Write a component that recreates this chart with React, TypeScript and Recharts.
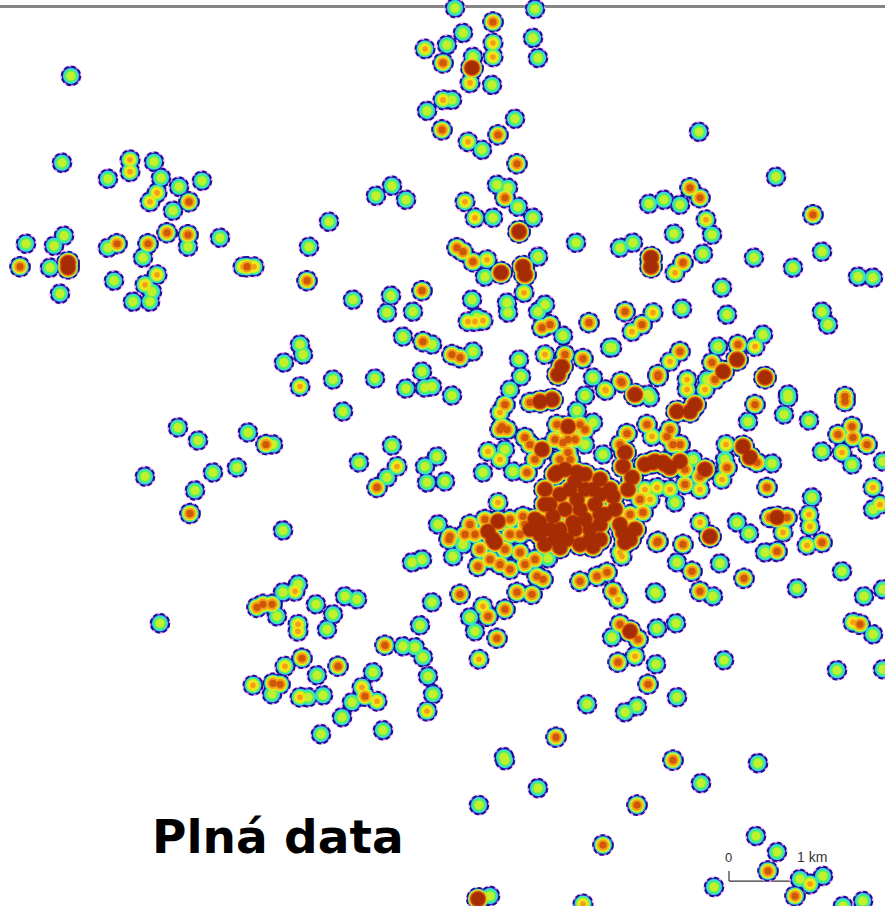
import { ReferenceLine, Scatter, ScatterChart, XAxis, YAxis } from "recharts";

const W = 885;
const H = 906;

// spot centres, grouped by how hot the middle of the spot is
const greenSpots = [
  [71,76],[62,163],[108,179],[154,162],[161,178],[179,187],[202,181],[173,211],[26,244],[64,236],[54,246],[50,268],[60,294],
  [108,248],[143,258],[188,247],[220,238],[114,281],[150,302],[133,302],[152,292],
  [455,8],[535,9],[463,33],[533,38],[538,58],[447,45],[473,57],[492,85],[452,100],[427,111],[515,119],[482,150],
  [392,186],[376,196],[406,200],[329,222],[309,247],[353,300],[391,296],[387,313],[413,312],[497,185],[508,188],[518,207],
  [493,218],[533,218],[576,243],[538,257],[485,277],[507,303],[508,313],[472,300],[545,305],[538,312],[477,318],
  [699,132],[776,177],[649,204],[664,200],[680,205],[712,235],[674,234],[620,248],[633,243],[703,254],[754,258],[822,252],
  [793,268],[858,277],[873,278],[722,288],[682,309],[727,315],[822,312],[828,325],[610,348],[718,347],[763,335],[707,380],[648,395],[788,395],
  [403,337],[300,345],[303,355],[284,363],[333,380],[375,379],[406,389],[422,372],[425,388],[343,412],
  [178,428],[198,441],[248,433],[273,445],[145,477],[213,473],[237,468],[195,491],[283,531],[392,446],[359,463],[387,478],[425,467],[427,483],
  [563,336],[612,348],[452,396],[473,352],[432,345],[432,387],[519,360],[521,377],[510,390],[593,378],[585,396],[650,398],[577,411],[593,423],[505,450],
  [483,473],[437,457],[445,482],[585,445],[603,455],[577,423],[513,472],
  [438,525],[463,545],[453,557],[422,560],[412,563],[548,559],[432,603],[420,626],[470,618],[475,632],[415,648],[423,658],[428,677],[433,695],
  [655,593],[612,638],[657,629],[656,665],[587,705],[625,713],[637,707],[504,758],
  [693,460],[675,503],[725,460],[772,464],[748,422],[788,398],[784,415],[809,421],[822,452],[852,465],[873,510],[883,462],[812,498],
  [765,553],[737,523],[749,534],[677,563],[720,564],[713,597],[656,594],[797,589],[842,572],[864,597],[883,590],[873,635],[837,671],[883,670],
  [724,661],[676,624],[677,698],
  [160,624],[298,585],[283,593],[277,617],[316,605],[345,597],[357,600],[333,615],[327,630],[317,676],[272,695],[308,698],[323,696],[373,673],
  [352,703],[342,718],[321,735],[383,731],[403,647],[505,761],[538,789],[479,806],[701,784],[758,764],[756,837],[777,853],[714,888],[823,877],[800,880],[843,907],[863,902],[490,897],
];

const amberSpots = [
  [130,160],[130,172],[157,193],[150,202],[243,267],[254,267],[157,275],[145,285],
  [425,49],[493,43],[493,57],[470,83],[443,100],[468,142],[465,202],[475,218],[487,260],[524,293],
  [706,220],[675,273],[653,313],[632,332],[670,362],[755,347],[687,380],[687,390],[605,390],
  [300,387],[397,467],[468,322],[475,322],[483,321],[545,355],[606,391],[500,413],[652,437],[488,452],[500,460],
  [498,503],[622,557],[620,553],[483,607],[618,600],[635,657],[479,660],[427,712],
  [700,490],[657,488],[722,480],[726,445],[873,488],[880,505],[842,453],[810,527],[807,546],[700,523],[783,533],[809,515],[853,623],
  [295,592],[298,625],[298,632],[285,667],[253,686],[377,702],[362,688],[300,698],[810,885],[583,905],
  [645,490],[650,500],[670,490],[705,390],
];

const orangeSpots = [
  [20,267],[117,244],[148,244],[167,233],[188,235],[189,202],[247,267],
  [493,22],[443,63],[442,130],[498,135],[517,164],[505,198],[457,248],[463,252],[473,262],[422,291],[307,281],
  [690,188],[700,198],[683,263],[813,215],[625,312],[642,325],[680,352],[738,345],[712,363],[622,383],[845,397],
  [423,342],[266,445],[377,488],[190,514],[542,328],[550,325],[589,323],[460,358],[452,355],[565,355],[583,359],[621,382],
  [636,397],[658,377],[658,375],[530,403],[502,427],[507,430],[557,425],[563,443],[568,453],[627,434],[647,425],[525,438],[527,473],
  [667,437],[680,445],[449,540],[470,525],[450,537],[523,517],[500,565],[520,553],[478,567],[543,580],[537,577],[460,595],[517,593],[505,610],[532,595],
  [488,617],[497,639],[580,582],[607,573],[597,577],[613,592],[620,625],[638,640],[618,663],[648,685],[556,738],[658,542],[683,545],[657,543],
  [643,513],[685,485],[700,477],[727,468],[757,463],[767,488],[755,405],[845,402],[852,427],[867,445],[853,438],[838,435],
  [770,518],[787,518],[777,552],[822,543],[692,572],[744,579],[860,625],[700,592],
  [263,605],[257,608],[272,605],[302,659],[338,667],[273,684],[280,685],[365,697],[385,646],[673,761],[637,806],[603,846],[768,872],[795,897],
  [510,535],[505,550],[475,535],[490,560],[525,525],[520,535],[565,430],[568,440],[670,430],[673,445],[620,445],[535,560],[630,515],
  [485,520],[510,520],[480,550],[465,535],[510,570],[525,565],[555,440],[575,440],[570,460],[560,460],[580,425],[585,430],[505,405],[500,430],[530,445],[535,460],[685,470],[715,380],[640,500],
];

const brownSpots = [
  [68,268],[68,263],[472,68],[519,232],[523,267],[525,275],[501,273],
  [651,258],[651,267],[737,360],[723,372],[765,378],[635,395],[558,375],[562,367],[552,400],[540,402],[568,427],[542,450],
  [557,473],[577,473],[625,453],[623,467],[663,463],[555,475],[575,482],[593,490],[613,497],[577,500],[553,517],[573,523],[590,530],
  [593,547],[540,523],[567,540],[623,533],[625,543],[632,478],[670,468],[653,463],[677,412],[690,412],[695,405],
  [493,540],[498,522],[488,532],[495,543],[630,632],[710,537],[705,470],[665,465],[655,462],[743,447],[750,458],
  [777,518],[478,900],
  [545,490],[560,495],[595,505],[605,515],[600,525],[585,520],[560,530],[580,545],[550,530],[530,530],[610,490],[600,480],[585,475],[565,470],
  [540,535],[555,540],[535,520],[590,540],[630,540],[620,525],[635,530],[645,465],[680,462],[628,490],
  [570,490],[585,490],[600,495],[550,505],[565,510],[580,510],[545,505],[575,530],[545,545],[560,548],[600,540],[600,515],[615,510],
];

const spots = [greenSpots, amberSpots, orangeSpots, brownSpots].flatMap((list, level) =>
  list.map(([x, y]) => ({ x, y, level }))
);

// contour bands from the outside in, radius per hotness level
const bands = [
  { fill: "#f2a8f8", radii: [10.6, 10.8, 11, 12] },
  { fill: "#3528c4", stroke: "#14108c", radii: [9.3, 9.5, 9.9, 11] },
  { fill: "#36d8e6", radii: [8, 8.4, 8.8, 10.2] },
  { fill: "#4cf06c", radii: [6.6, 7.4, 8, 9.8] },
  { fill: "#c2f02c", radii: [4.6, 6.4, 7.4, 9.5] },
  { fill: "#f6e41c", radii: [0, 5, 6.8, 9.2] },
  { fill: "#f0a014", radii: [0, 2.8, 5.8, 8.8] },
  { fill: "#d05608", radii: [0, 0, 3.6, 8] },
  { fill: "#a62c04", radii: [0, 0, 0, 6.9] },
];

const Band = (radii: number[], fill: string, stroke?: string) => (props: any) => {
  const r = radii[props.payload.level];
  if (!r) return <g />;
  return (
    <circle
      cx={props.cx}
      cy={props.cy}
      r={r}
      fill={fill}
      stroke={stroke}
      strokeWidth={stroke ? 1.8 : 0}
      strokeDasharray={stroke ? "4.5 2.8" : undefined}
    />
  );
};

export default function App() {
  return (
    <div style={{ position: "absolute", left: 0, top: 0, width: W, height: H, background: "#fff", overflow: "hidden" }}>
      <style>{`.spot-band { filter: blur(0.7px); }`}</style>
      <ScatterChart width={W} height={H} margin={{ top: 0, right: 0, bottom: 0, left: 0 }}>
        <XAxis type="number" dataKey="x" domain={[0, W]} hide />
        <YAxis type="number" dataKey="y" domain={[0, H]} reversed hide />
        {bands.map((b) => (
          <Scatter
            key={b.fill}
            data={spots}
            className="spot-band"
            shape={Band(b.radii, b.fill, b.stroke)}
            isAnimationActive={false}
          />
        ))}
        <ReferenceLine y={6.5} stroke="#858585" strokeWidth={3} />
        <ReferenceLine segment={[{ x: 729, y: 872 }, { x: 729, y: 882 }]} stroke="#333" strokeWidth={1.2} />
        <ReferenceLine segment={[{ x: 729, y: 882 }, { x: 801, y: 882 }]} stroke="#333" strokeWidth={1.2} />
        <ReferenceLine segment={[{ x: 801, y: 872 }, { x: 801, y: 882 }]} stroke="#333" strokeWidth={1.2} />
        <text x={152} y={853} fontFamily="DejaVu Sans" fontWeight="bold" fontSize={47} fill="#000">
          Plná data
        </text>
        <text x={725} y={862} fontFamily="Liberation Sans" fontSize={13} fill="#333">
          0
        </text>
        <text x={797} y={862} fontFamily="Liberation Sans" fontSize={14} fill="#333">
          1 km
        </text>
      </ScatterChart>
    </div>
  );
}
